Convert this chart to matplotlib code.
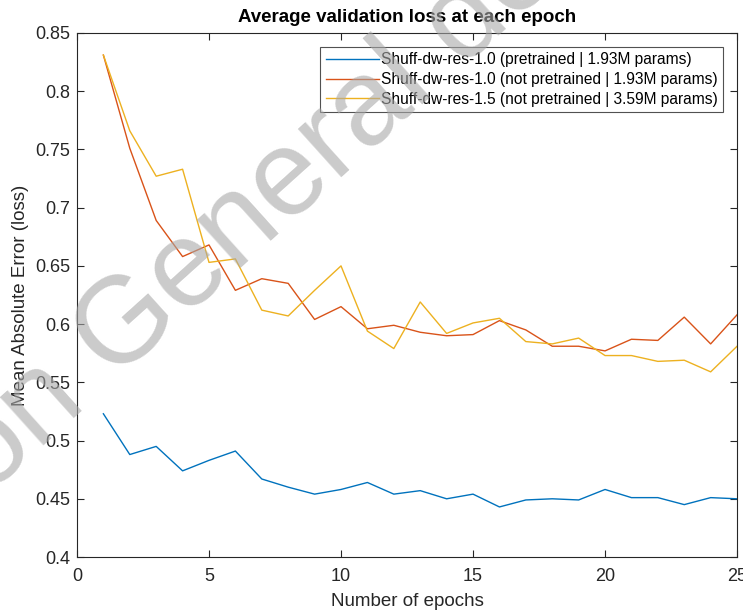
import numpy as np
import matplotlib.pyplot as plt

plt.rcParams['font.family'] = ['Liberation Sans', 'DejaVu Sans']

# epochs and validation loss
epochs = list(range(1, 26))

pretrained_10 = [0.523, 0.488, 0.495, 0.474, 0.483, 0.491, 0.467, 0.460, 0.454, 0.458,
                 0.464, 0.454, 0.457, 0.450, 0.454, 0.443, 0.449, 0.450, 0.449, 0.458,
                 0.451, 0.451, 0.445, 0.451, 0.450]

scratch_10 = [0.831, 0.751, 0.689, 0.658, 0.668, 0.629, 0.639, 0.635, 0.604, 0.615,
              0.596, 0.599, 0.593, 0.590, 0.591, 0.603, 0.595, 0.581, 0.581, 0.577,
              0.587, 0.586, 0.606, 0.583, 0.608]

scratch_15 = [0.831, 0.766, 0.727, 0.733, 0.653, 0.656, 0.612, 0.607, 0.629, 0.650,
              0.594, 0.579, 0.619, 0.592, 0.601, 0.605, 0.585, 0.583, 0.588, 0.573,
              0.573, 0.568, 0.569, 0.559, 0.581]

labels = ['Shuff-dw-res-1.0 (pretrained | 1.93M params)',
          'Shuff-dw-res-1.0 (not pretrained | 1.93M params)',
          'Shuff-dw-res-1.5 (not pretrained | 3.59M params)']

# MATLAB default line colours
colors = ['#0072BD', '#D95319', '#EDB120']

axis_color = '#262626'

fig = plt.figure(figsize=(7.43, 6.14), dpi=100)
ax = fig.add_axes([0.1036, 0.0928, 0.8884, 0.8535])

for series, lab, col in zip([pretrained_10, scratch_10, scratch_15], labels, colors):
    ax.plot(epochs, series, color=col, linewidth=1.0, label=lab)

ax.set_xlim(0, 25)
ax.set_ylim(0.4, 0.85)
ax.set_xticks([0, 5, 10, 15, 20, 25])
ax.set_yticks([0.4, 0.45, 0.5, 0.55, 0.6, 0.65, 0.7, 0.75, 0.8, 0.85])
ax.set_yticklabels(['0.4', '0.45', '0.5', '0.55', '0.6', '0.65', '0.7', '0.75', '0.8', '0.85'])

ax.tick_params(direction='in', length=5, width=0.8, top=True, right=True,
               labelsize=13, colors=axis_color)
ax.tick_params(axis='x', pad=8)
ax.tick_params(axis='y', pad=5)
for sp in ax.spines.values():
    sp.set_color(axis_color)
    sp.set_linewidth(0.8)

ax.set_xlabel('Number of epochs', fontsize=13.5, color=axis_color, labelpad=6)
ax.set_ylabel('Mean Absolute Error (loss)', fontsize=13.5, color=axis_color, labelpad=4)
ax.set_title('Average validation loss at each epoch', fontsize=13.5, fontweight='bold',
             color='black', pad=8)

leg = ax.legend(loc='upper right', fontsize=11.2, frameon=True, fancybox=False,
                handlelength=3.4, handletextpad=0.15, borderpad=0.35, labelspacing=0.3,
                borderaxespad=0.9)
leg.get_frame().set_edgecolor(axis_color)
leg.get_frame().set_linewidth(0.8)

# watermark over the figure
fig.text(0.341, 0.653, 'on General de', fontsize=88, color='#a8a8a8',
         alpha=0.6, rotation=42, ha='center', va='center', rotation_mode='anchor', zorder=10)

fig.savefig('out.png', dpi=100)
